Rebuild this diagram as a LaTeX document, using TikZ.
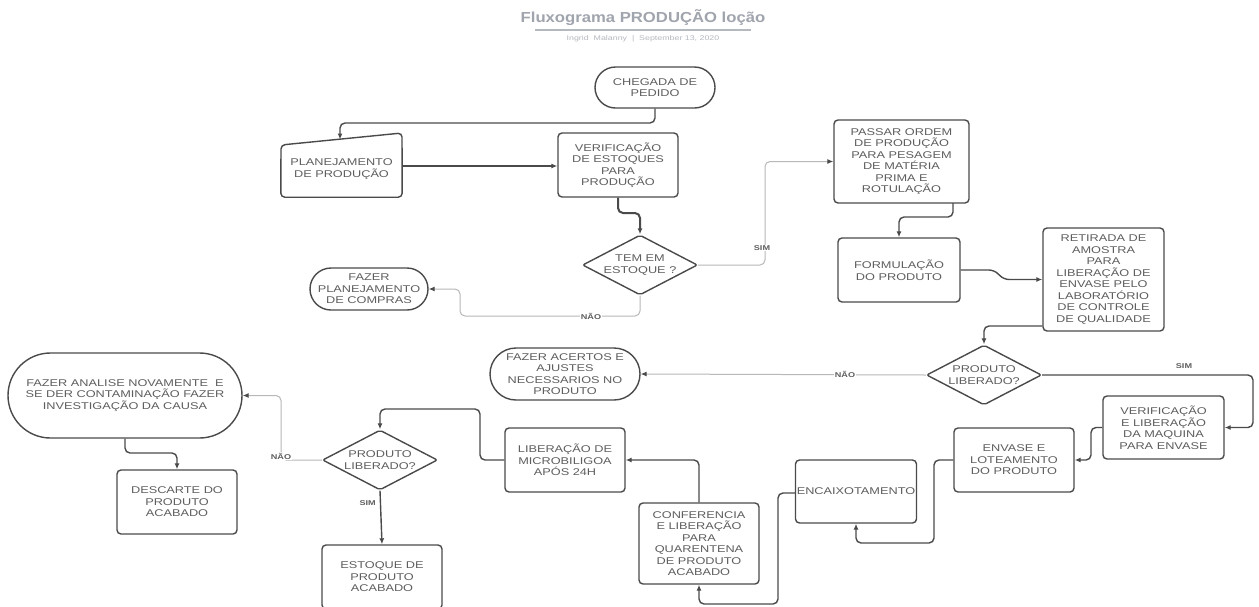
\documentclass[tikz,border=0pt]{standalone}
\usepackage{fontspec}
\setmainfont{Liberation Sans}[FakeStretch=1.3]
\newfontfamily\titlefont{Liberation Sans}[FakeStretch=1.15]
\usetikzlibrary{shapes.geometric,arrows.meta}
\definecolor{txtc}{HTML}{5E5E5E}
\definecolor{edgec}{HTML}{4A4A4A}
\definecolor{lightc}{HTML}{B8B8B8}
\definecolor{ttlc}{HTML}{A0A4AD}
\definecolor{subc}{HTML}{B4B8BF}
\begin{document}
\begin{tikzpicture}[x=1pt,y=-1pt,
  every node/.style={font=\fontsize{9.8}{11.5}\selectfont, text=txtc, align=center, inner sep=0pt},
  box/.style={draw=edgec, line width=1.4pt, rounded corners=4pt, rectangle},
  stad/.style={draw=edgec, line width=1.4pt, rectangle},
  dia/.style={draw=edgec, line width=1.4pt, diamond, aspect=1.9, rounded corners=2pt, minimum width=115pt, minimum height=60pt},
  flow/.style={draw=edgec, line width=1.4pt, rounded corners=5pt, -{Latex[length=6pt,width=5pt]}},
  lflow/.style={draw=lightc, line width=1pt, rounded corners=5pt, -{Latex[length=6pt,width=5pt,color=edgec]}},
  lbl/.style={font=\fontsize{7}{8}\selectfont\bfseries, text=txtc, fill=white, inner sep=1pt}
]
\path[use as bounding box, clip] (0,0) rectangle (1259,606);
\fill[white] (0,0) rectangle (1259,606);

% title
\node[font=\titlefont\bfseries\fontsize{14.5}{16}\selectfont, text=ttlc] (title) at (643,18) {Fluxograma PRODUÇÃO loção};
\draw[draw=subc, line width=1.2pt] (535,30) -- (751,30);
\node[font=\fontsize{6.8}{7}\selectfont, text=subc] (subtitle) at (643,38.5) {Ingrid\ \ Malanny\ \ |\ \ September 13, 2020};

% nodes
\node[stad, rounded corners=20.5pt, minimum width=120pt, minimum height=41pt] (chegada) at (655,87.5) {CHEGADA DE\\PEDIDO};
\node[minimum width=121pt, minimum height=56pt] (plan) at (341.5,169) {PLANEJAMENTO\\DE PRODUÇÃO};
\draw[draw=edgec, line width=1.4pt, rounded corners=4pt] (plan.south west) -- (plan.south east) -- (402,133) -- (281,145) -- cycle;
\node[box, minimum width=120pt, minimum height=64pt] (verif) at (618,165) {VERIFICAÇÃO\\DE ESTOQUES\\PARA\\PRODUÇÃO};
\node[dia] (tem) at (640,265) {TEM EM\\ESTOQUE ?};
\node[stad, rounded corners=21pt, minimum width=118pt, minimum height=42pt] (compras) at (369,289) {FAZER\\PLANEJAMENTO\\DE COMPRAS};
\node[box, minimum width=135pt, minimum height=83pt] (passar) at (901.5,161.5) {PASSAR ORDEM\\DE PRODUÇÃO\\PARA PESAGEM\\DE MATÉRIA\\PRIMA E\\ROTULAÇÃO};
\node[box, minimum width=122pt, minimum height=64pt] (formul) at (899,270) {FORMULAÇÃO\\DO PRODUTO};
\node[box, minimum width=121pt, minimum height=103pt] (retirada) at (1103.5,279.5) {RETIRADA DE\\AMOSTRA\\PARA\\LIBERAÇÃO DE\\ENVASE PELO\\LABORATÓRIO\\DE CONTROLE\\DE QUALIDADE};
\node[dia] (lib1) at (984,375) {PRODUTO\\LIBERADO?};
\node[stad, rounded corners=26pt, minimum width=150pt, minimum height=52pt] (acertos) at (565,374) {FAZER ACERTOS E\\AJUSTES\\NECESSARIOS NO\\PRODUTO};
\node[box, minimum width=121pt, minimum height=63pt] (maquina) at (1163.5,427.5) {VERIFICAÇÃO\\E LIBERAÇÃO\\DA MAQUINA\\PARA ENVASE};
\node[box, minimum width=120pt, minimum height=64pt] (envase) at (1014,460) {ENVASE E\\LOTEAMENTO\\DO PRODUTO};
\node[box, minimum width=121pt, minimum height=63pt] (encaix) at (856,491.5) {\makebox[121pt]{ENCAIXOTAMENTO}};
\node[box, minimum width=120pt, minimum height=81pt] (confer) at (699,543.5) {CONFERENCIA\\E LIBERAÇÃO\\PARA\\QUARENTENA\\DE PRODUTO\\ACABADO};
\node[box, minimum width=120pt, minimum height=64pt] (micro) at (565,460) {LIBERAÇÃO DE\\MICROBILIGOA\\APÓS 24H};
\node[dia] (lib2) at (380,460) {PRODUTO\\LIBERADO?};
\node[stad, rounded corners=42.5pt, minimum width=234pt, minimum height=85pt] (analise) at (125,395.5) {FAZER ANALISE NOVAMENTE\ \ E\\SE DER CONTAMINAÇÃO FAZER\\INVESTIGAÇÃO DA CAUSA};
\node[box, minimum width=120pt, minimum height=64pt] (descarte) at (177,502) {DESCARTE DO\\PRODUTO\\ACABADO};
\node[box, minimum width=120pt, minimum height=64pt] (estoque) at (382,577) {ESTOQUE DE\\PRODUTO\\ACABADO};

% connectors
\coordinate (planin) at (340,139.5);
\draw[flow] (chegada.south) |- (planin |- 0,123) -- (planin);
\draw[flow] (plan.east |- 0,166) -- (verif.west |- 0,166);
\draw[flow, line width=2pt] (verif.south) -- (618,213) -- (640,213) -- (tem.north);
\draw[lflow] (tem.south) |- (460,316) |- (compras.east);
\node[lbl] (nao1) at (591,316.5) {NÃO};
\draw[lflow] (tem.east) -| (765,210) |- (passar.west);
\node[lbl] (sim1) at (762,248) {SIM};
\draw[flow] (953,203) |- (formul.north |- 0,217) -- (formul.north);
\draw[flow] (formul.east) -- (994,270) -- (1004,279.5) -- (retirada.west);
\draw[flow] (retirada.west |- 0,326) -| (lib1.north);
\draw[lflow] (lib1.west) -- (acertos.east);
\node[lbl] (nao2) at (845,374.5) {NÃO};
\draw[flow] (lib1.east) -| (1253,400) |- (maquina.east);
\node[lbl] (sim2) at (1184,366) {SIM};
\draw[flow] (maquina.west) -| (1091,445) |- (envase.east);
\draw[flow] (envase.west) -| (934,500) |- (encaix.south |- 0,543) -- (encaix.south);
\draw[flow] (encaix.west |- 0,493) -| (778,550) |- (confer.south |- 0,604) -- (confer.south);
\draw[flow] (confer.north) |- (micro.east);
\draw[flow] (micro.west) -| (480,430) |- (lib2.north |- 0,409) -- (lib2.north);
\draw[lflow] (lib2.west) -| (281,420) |- (analise.east);
\node[lbl] (nao3) at (281,456) {NÃO};
\draw[flow] (analise.south) |- (descarte.north |- 0,453) -- (descarte.north);
\draw[flow] (lib2.south) -- (estoque.north);
\node[lbl, anchor=east] (sim3) at (377,503) {SIM};
\end{tikzpicture}
\end{document}
